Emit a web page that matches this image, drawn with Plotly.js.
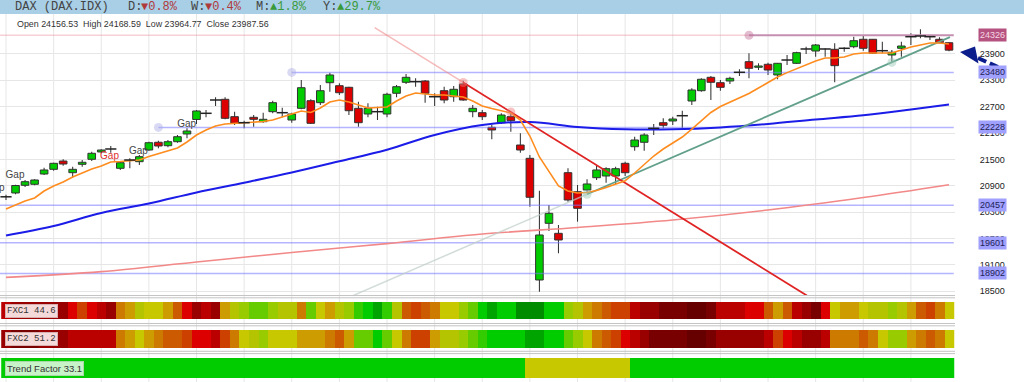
<!DOCTYPE html>
<html><head><meta charset="utf-8">
<script src="https://cdn.plot.ly/plotly-3.0.1.min.js"></script>
<style>html,body{margin:0;padding:0;background:#fff;overflow:hidden}#chart{width:1024px;height:382px}</style>
</head><body><div id="chart"></div>
<script>
// ---- data ----
const dayIndex = Array.from({length:100},(_,i)=>i);
const openP = [20647,20734,20909,20932,21166,21273,21462,21196,21387,21501,
21668,21736,21296,21485,21447,21713,21889,21811,21902,22078,
22408,22549,22852,22868,22472,22335,22458,22358,22586,22563,
22396,22663,22836,22791,23246,23178,23141,22663,22533,22586,
22533,23005,23255,23269,23285,22927,23064,22927,23217,22586,
22563,22230,22335,22472,21827,21524,18752,20043,19815,21196,
20763,20802,21082,21121,21121,21410,21788,21889,22207,22335,
22374,22494,22829,23064,23369,23246,23285,23483,23725,23597,
23665,23422,23763,23688,24014,23968,24014,24007,24030,24066,
24235,24235,23975,23877,24030,24294,24310,24294,24235,24156.53];
const highP = [20695,20923,21030,21046,21310,21424,21501,21333,21485,21674,
21729,21804,21447,21524,21599,21902,21925,21941,22055,22207,
22624,22624,22914,22914,22586,22381,22510,22563,22836,22677,
22563,23308,22868,23194,23474,23232,23155,22813,22777,22699,
23018,23194,23444,23346,23308,23005,23155,23171,23292,22738,
22624,22283,22549,22563,22094,21599,20786,20460,20005,21296,
20916,21046,21349,21319,21333,21447,22016,22094,22305,22435,
22472,22608,23119,23346,23399,23308,23383,23551,23916,23688,
23702,23695,23877,23952,24066,24128,24030,24144,24053,24294,
24333,24235,24180,23991,24180,24372,24463,24333,24280,24168.59];
const lowP = [20574,20704,20870,20909,21144,21242,21356,21082,21333,21462,
21638,21652,21258,21296,21371,21697,21752,21775,21879,21980,
22305,22458,22715,22412,22283,22207,22244,22335,22549,22458,
22335,22640,22305,22738,23041,22966,22510,22244,22458,22396,
22458,22914,23217,23155,22791,22715,22777,22813,22836,22458,
22396,21957,22305,22130,21652,20422,18485,19868,19360,20535,
20080,20763,21030,20968,20939,21121,21697,21697,22055,22207,
22283,22207,22738,23041,22852,23064,23217,23399,23346,23535,
23422,23324,23649,23672,23900,23838,23838,23255,23952,24030,
23975,23900,23916,23725,23838,24105,24258,24219,24144,23964.77];
const closeP = [20647,20904,20991,21030,21258,21410,21394,21273,21433,21638,
21713,21736,21424,21485,21561,21879,21804,21902,22016,22146,
22602,22549,22852,22435,22321,22335,22412,22412,22791,22563,
22533,23132,22321,23064,23422,23018,22608,22335,22663,22586,
22982,23155,23369,23269,23005,22927,22852,23096,22852,22663,
22472,22169,22510,22381,21713,20636,19777,20271,19663,20574,
20385,20939,21258,21287,21287,21196,21941,22055,22207,22276,
22419,22494,23080,23324,23255,23141,23346,23483,23574,23627,
23535,23688,23763,23930,24014,24105,24014,23634,24030,24203,
24030,23916,23975,23939,24082,24294,24310,24294,24157,23987.56];

const fastMA = [20369,20460,20551,20620,20779,20893,20984,21098,21189,21280,
21349,21440,21451,21462,21485,21565,21633,21690,21759,21895,
22055,22169,22260,22305,22317,22328,22351,22362,22396,22465,
22522,22601,22567,22670,22806,22852,22806,22738,22670,22681,
22693,22829,22943,23011,22989,22966,22966,22943,22920,22829,
22715,22658,22613,22556,22396,22032,21554,21212,20893,20779,
20733,20745,20790,20861,20938,21014,21189,21383,21576,21736,
21872,22009,22191,22374,22567,22702,22806,22898,23000,23125,
23253,23376,23476,23570,23656,23740,23809,23809,23832,23900,
23923,23923,23923,23923,23991,24059,24105,24150,24150,24128];

const midMAx = [0,5,10,15,20,25,30,35,40,45,50,55,60,65,70,75,80,85,90,95,99];
const midMA  = [19765,19982,20278,20494,20745,20968,21200,21456,21720,22055,22282,22351,22237,22185,22185,22226,22305,22408,22504,22636,22749];

const slowMAx = [0,10,20,30,40,50,60,70,80,90,99];
const slowMA  = [18811,18943,19162,19378,19581,19799,19948,20118,20346,20631,20923];

const levelValues = [24326,23480,22228,20457,19601,18902];
const levelStarts = [78,30,16,-0.63,-0.63,-0.63];

const redTrendX = [38.7,48,85], redTrendY = [24502,23251,18274];
const tealTrendX = [36,61,99.1], tealTrendY = [18356,20704,24284];

const gapX = [-1.15,0.95,10.87,13.9,18.97];
const gapY = [20825,21143,21554,21690,22283];
const gapColor = ['#444','#444','#e03030','#444','#444'];

const fxc1 = [3,2,2,2,2,2,2,4,5,4,3,2,7,8,10,9,9,8,6,4,
2,3,2,8,10,11,12,12,11,10,10,7,12,9,8,10,11,13,14,15,
13,10,6,5,6,7,9,9,11,12,14,15,14,14,16,16,16,14,14,11,
10,8,7,6,5,5,3,2,2,1,1,1,0,0,1,3,3,3,4,4,
6,8,6,3,2,1,4,9,8,8,9,10,10,11,10,8,6,5,7,9];
const fxc2 = [2,1,1,1,2,2,2,3,3,3,3,3,7,8,9,8,7,6,6,5,
4,4,3,5,7,9,10,11,9,9,9,8,8,8,7,6,8,12,12,14,
12,9,7,5,5,8,10,10,11,12,13,14,14,14,14,15,15,14,14,12,
11,9,7,6,5,4,3,2,1,1,1,1,0,0,1,2,2,2,2,2,
3,5,4,3,2,2,3,7,7,7,6,7,9,11,11,8,7,6,7,9];
const trendF = [14,14,14,14,14,14,14,14,14,14,14,14,14,14,14,14,14,14,14,14,
14,14,14,14,14,14,14,14,14,14,14,14,14,14,14,14,14,14,14,14,
14,14,14,14,14,14,14,14,14,14,14,14,14,14,14,9,9,9,9,9,
9,9,9,9,9,9,14,14,14,14,14,14,14,14,14,14,14,14,14,14,
14,14,14,14,14,14,14,14,14,14,14,14,14,14,14,14,14,14,14,14];
const palette = ['#660000','#780000','#990000','#bb0000','#dd0000','#cc4000','#cc5a00','#cc7a00','#cc9c00','#c8c800','#b4c400','#99cc00','#66cc00','#33cc00','#00cc00','#00a400','#008c00'];

const yTicks = [18500,19100,19700,20300,20900,21500,22100,22700,23300,23900];

// ---- helpers ----
const W=1024,H=382;
const px = x=>x/W, py = y=>1-y/H;
const stepScale = [];
palette.forEach((c,k)=>{stepScale.push([k/palette.length,c]);stepScale.push([(k+1)/palette.length,c]);});

const bodyIdx = dayIndex.filter(i=>openP[i]!==closeP[i]);
const dojiIdx = dayIndex.filter(i=>openP[i]===closeP[i]);

const traces = [];
traces.push({type:'bar',x:dayIndex,base:lowP,y:dayIndex.map(i=>highP[i]-lowP[i]),width:0.11,
  marker:{color:'#333',line:{width:0}},hoverinfo:'skip'});
traces.push({type:'bar',x:bodyIdx,base:bodyIdx.map(i=>Math.min(openP[i],closeP[i])),y:bodyIdx.map(i=>Math.abs(closeP[i]-openP[i])),width:0.8,
  marker:{color:bodyIdx.map(i=>closeP[i]>openP[i]?'#00cc00':'#dd0000'),line:{color:'#333',width:1}},hoverinfo:'skip'});
levelValues.forEach((v,k)=>{
  if(k===0){
    traces.push({type:'scatter',mode:'lines',x:[-0.63,levelStarts[0]],y:[v,v],line:{color:'rgba(235,150,160,0.45)',width:1.5},hoverinfo:'skip'});
    traces.push({type:'scatter',mode:'lines',x:[levelStarts[0],99.5],y:[v,v],line:{color:'#c48fb0',width:2},hoverinfo:'skip'});
  } else {
    traces.push({type:'scatter',mode:'lines',x:[levelStarts[k],99.5],y:[v,v],line:{color:'rgba(120,120,255,0.55)',width:1.5},hoverinfo:'skip'});
  }
});
traces.push({type:'scatter',mode:'lines',x:slowMAx,y:slowMA,line:{color:'#f28888',width:1.6,shape:'spline'},hoverinfo:'skip'});
traces.push({type:'scatter',mode:'lines',x:midMAx,y:midMA,line:{color:'#1c1ce8',width:2,shape:'spline'},hoverinfo:'skip'});
traces.push({type:'scatter',mode:'lines',x:tealTrendX.slice(0,2),y:tealTrendY.slice(0,2),line:{color:'rgba(190,205,200,0.7)',width:1.5},hoverinfo:'skip'});
traces.push({type:'scatter',mode:'lines',x:tealTrendX.slice(1),y:tealTrendY.slice(1),line:{color:'#62a08c',width:1.8},hoverinfo:'skip'});
traces.push({type:'scatter',mode:'lines',x:redTrendX.slice(0,2),y:redTrendY.slice(0,2),line:{color:'rgba(240,140,140,0.6)',width:1.5},hoverinfo:'skip'});
traces.push({type:'scatter',mode:'lines',x:redTrendX.slice(1),y:redTrendY.slice(1),line:{color:'#e02424',width:1.8},hoverinfo:'skip'});
traces.push({type:'scatter',mode:'lines',x:dayIndex,y:fastMA,line:{color:'#ff8c1e',width:1.6},hoverinfo:'skip'});
traces.push({type:'scatter',mode:'markers',
  x:[levelStarts[2],levelStarts[1],levelStarts[0],redTrendX[1],53,tealTrendX[1],93],
  y:[levelValues[2],levelValues[1],levelValues[0],redTrendY[1],22579,tealTrendY[1],23709],
  marker:{size:9,color:['rgba(170,170,230,0.45)','rgba(170,170,230,0.45)','rgba(190,110,150,0.45)','rgba(240,120,120,0.45)','rgba(240,120,120,0.45)','rgba(150,200,180,0.45)','rgba(150,200,180,0.45)']},hoverinfo:'skip'});
traces.push({type:'scatter',mode:'markers',x:dojiIdx,y:dojiIdx.map(i=>closeP[i]),
  marker:{symbol:'line-ew',size:8,line:{color:'#222',width:1.5}},hoverinfo:'skip'});
traces.push({type:'scatter',mode:'text',x:gapX,y:gapY,text:gapX.map(()=>'Gap'),textfont:{family:'Liberation Sans, Arial',size:10,color:gapColor},hoverinfo:'skip',cliponaxis:true});
[[fxc1,'y2'],[fxc2,'y3'],[trendF,'y4']].forEach(([z,ya])=>{
  traces.push({type:'heatmap',x:dayIndex,y:[0],z:[z],xaxis:'x',yaxis:ya,colorscale:stepScale,zmin:-0.5,zmax:palette.length-0.5,showscale:false,hoverinfo:'skip'});
});

const shapes = [];
for(let k=0;k<=95;k+=5){
  shapes.push({type:'line',xref:'x',yref:'paper',x0:k,x1:k,y0:0,y1:py(14),line:{color:'#e6e6e6',width:1},layer:'below'});
}
shapes.push({type:'rect',xref:'paper',yref:'paper',x0:0,x1:1,y0:py(14),y1:1,fillcolor:'#a8cfe6',line:{width:0},layer:'above'});
[295.5,297.8,323.5,325.8,351.3,353.6].forEach(y=>{
  shapes.push({type:'line',xref:'paper',yref:'paper',x0:0,x1:px(955),y0:py(y),y1:py(y),line:{color:'#c4c4c4',width:1},layer:'above'});
});
shapes.push({type:'line',xref:'paper',yref:'paper',x0:px(978),y0:py(58),x1:px(1001),y1:py(68.5),line:{color:'#0c1d8c',width:4,dash:'9px,4px'},layer:'above'});
shapes.push({type:'path',xref:'paper',yref:'paper',path:`M ${px(960)} ${py(52)} L ${px(975)} ${py(46.5)} L ${px(978.5)} ${py(63.5)} Z`,fillcolor:'#0c1d8c',line:{width:0},layer:'above'});

const annotations = [];
const hdr = [
  ['DAX (DAX.IDX)',13,'#444'],['D:',126,'#444'],['▼0.8%',139,'#b03a3a'],
  ['W:',189,'#444'],['▼0.4%',203,'#b03a3a'],['M:',254,'#444'],['▲1.8%',268,'#3a9a3a'],
  ['Y:',321,'#444'],['▲29.7%',335,'#3a9a3a']];
hdr.forEach(([t,x,c])=>annotations.push({xref:'paper',yref:'paper',x:px(x),y:py(7),xanchor:'left',yanchor:'middle',text:t,showarrow:false,font:{family:'Liberation Mono, Courier New, monospace',size:12,color:c}}));
annotations.push({xref:'paper',yref:'paper',x:px(15),y:py(23.5),xanchor:'left',yanchor:'middle',showarrow:false,
  text:'Open '+openP[99]+'\u00a0 High '+highP[99]+'\u00a0 Low '+lowP[99]+'\u00a0 Close '+closeP[99],
  font:{family:'Liberation Sans, Arial',size:8.9,color:'#333'}});
levelValues.forEach((v,k)=>annotations.push({xref:'paper',yref:'y',x:px(992),y:v,xanchor:'center',yanchor:'middle',text:String(v),showarrow:false,
  bgcolor:k===0?'#b5527f':'#a0a0ff',borderpad:1,font:{family:'Liberation Sans, Arial',size:9,color:k===0?'#f6d6e4':'#222255'}}));
[['FXC1 44.6',311],['FXC2 51.2',339]].forEach(([t,y])=>annotations.push({xref:'paper',yref:'paper',x:px(5),y:py(y),xanchor:'left',yanchor:'middle',text:t,showarrow:false,
  bgcolor:'#f5dada',bordercolor:'#d8b0b0',borderwidth:1,borderpad:1,font:{family:'Liberation Mono, Courier New, monospace',size:9,color:'#333'}}));
annotations.push({xref:'paper',yref:'paper',x:px(5),y:py(368),xanchor:'left',yanchor:'middle',text:'Trend Factor 33.1',showarrow:false,
  bgcolor:'#c8f2c8',bordercolor:'#a8d8a8',borderwidth:1,borderpad:1,font:{family:'Liberation Sans, Arial',size:9.5,color:'#333'}});

const layout = {
  width:W,height:H,margin:{l:0,r:0,t:0,b:0},paper_bgcolor:'#fff',plot_bgcolor:'rgba(0,0,0,0)',
  showlegend:false,hovermode:false,barmode:'overlay',
  xaxis:{domain:[0,px(955)],range:[-0.63,99.63],showgrid:false,zeroline:false,showticklabels:false,ticks:'',fixedrange:true},
  yaxis:{domain:[py(295),py(14)],range:[18410,24811],side:'right',tickvals:yTicks,ticktext:yTicks.map(String),showgrid:true,gridcolor:'#e6e6e6',zeroline:false,
    ticks:'outside',ticklen:22,tickcolor:'rgba(0,0,0,0)',tickfont:{family:'Liberation Sans, Arial',size:9,color:'#222'},fixedrange:true},
  yaxis2:{domain:[py(319),py(302)],range:[-0.5,0.5],visible:false,fixedrange:true},
  yaxis3:{domain:[py(348),py(330)],range:[-0.5,0.5],visible:false,fixedrange:true},
  yaxis4:{domain:[py(378),py(358)],range:[-0.5,0.5],visible:false,fixedrange:true},
  shapes:shapes,annotations:annotations
};
Plotly.newPlot('chart',traces,layout,{staticPlot:true,displayModeBar:false});
</script></body></html>
